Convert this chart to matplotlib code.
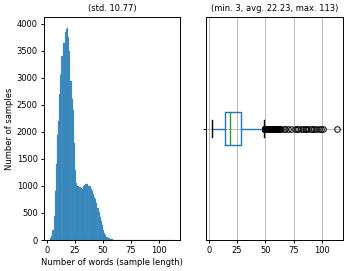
import numpy as np
import matplotlib
matplotlib.use("Agg")
import matplotlib.pyplot as plt

# Histogram counts per sample length (words), lengths 3..60
lengths = list(range(3, 61))
counts = [30, 80, 180, 450, 900, 1400, 1950,
          2200, 2700, 3050, 3400, 3650, 3650, 3850, 3900, 3930, 3750,
          3500, 2950, 2600, 2400, 1800, 1300,
          1050, 1000, 990, 980, 960, 950, 990, 1020, 1040, 1040, 1030, 1000, 990, 950, 900,
          850, 800, 750, 680, 600, 520, 430, 350, 270, 190, 130, 90, 60, 40, 28, 20, 14, 10, 8, 6]
# rare long samples (single occurrences)
tail_values = [61, 61, 62, 62, 63, 64, 66, 67, 70, 73, 76, 78, 79, 81, 83, 85, 86,
               88, 90, 91, 93, 95, 97, 99, 101, 113]

left_title = "(std. 10.77)"
right_title = "(min. 3, avg. 22.23, max. 113)"
xlabel = "Number of words (sample length)"
ylabel = "Number of samples"

data = np.concatenate([np.repeat(lengths, counts), np.array(tail_values)])

plt.rcParams.update({
    "font.size": 6,
    "axes.linewidth": 0.7,
    "xtick.major.width": 0.7,
    "ytick.major.width": 0.7,
    "xtick.major.size": 2.5,
    "ytick.major.size": 2.5,
    "xtick.major.pad": 2,
    "ytick.major.pad": 2,
    "lines.linewidth": 1.0,
    "grid.linewidth": 0.6,
})

fig = plt.figure(figsize=(3.48, 2.71), dpi=100)
ax1 = fig.add_axes([44 / 348, 1 - 240 / 271, 136 / 348, 223 / 271])
ax2 = fig.add_axes([206 / 348, 1 - 240 / 271, 137 / 348, 223 / 271])

nbins = int(data.max() - data.min())
ax1.hist(data, bins=nbins, color="#1f77b4", alpha=0.82, edgecolor="#1f77b4", linewidth=0.15)
ax1.set_title(left_title, fontsize=6, pad=4)
ax1.set_xlabel(xlabel, labelpad=2)
ax1.set_ylabel(ylabel, labelpad=2)
ax1.set_xticks([0, 25, 50, 75, 100])
ax1.set_yticks(np.arange(0, 4001, 500))

bp = ax2.boxplot(data, vert=False, patch_artist=False,
                 boxprops=dict(color="#1f77b4"),
                 whiskerprops=dict(color="#1f77b4"),
                 medianprops=dict(color="#2ca02c"),
                 capprops=dict(color="black"),
                 flierprops=dict(marker="o", markersize=4, markerfacecolor="none",
                                 markeredgecolor="black", markeredgewidth=0.7))
ax2.grid(True)
ax2.set_axisbelow(True)
ax2.set_yticks([1])
ax2.set_yticklabels([""])
ax2.set_xticks([0, 25, 50, 75, 100])
ax2.set_title(right_title, fontsize=6, pad=4)

fig.savefig("out.png", dpi=100)
